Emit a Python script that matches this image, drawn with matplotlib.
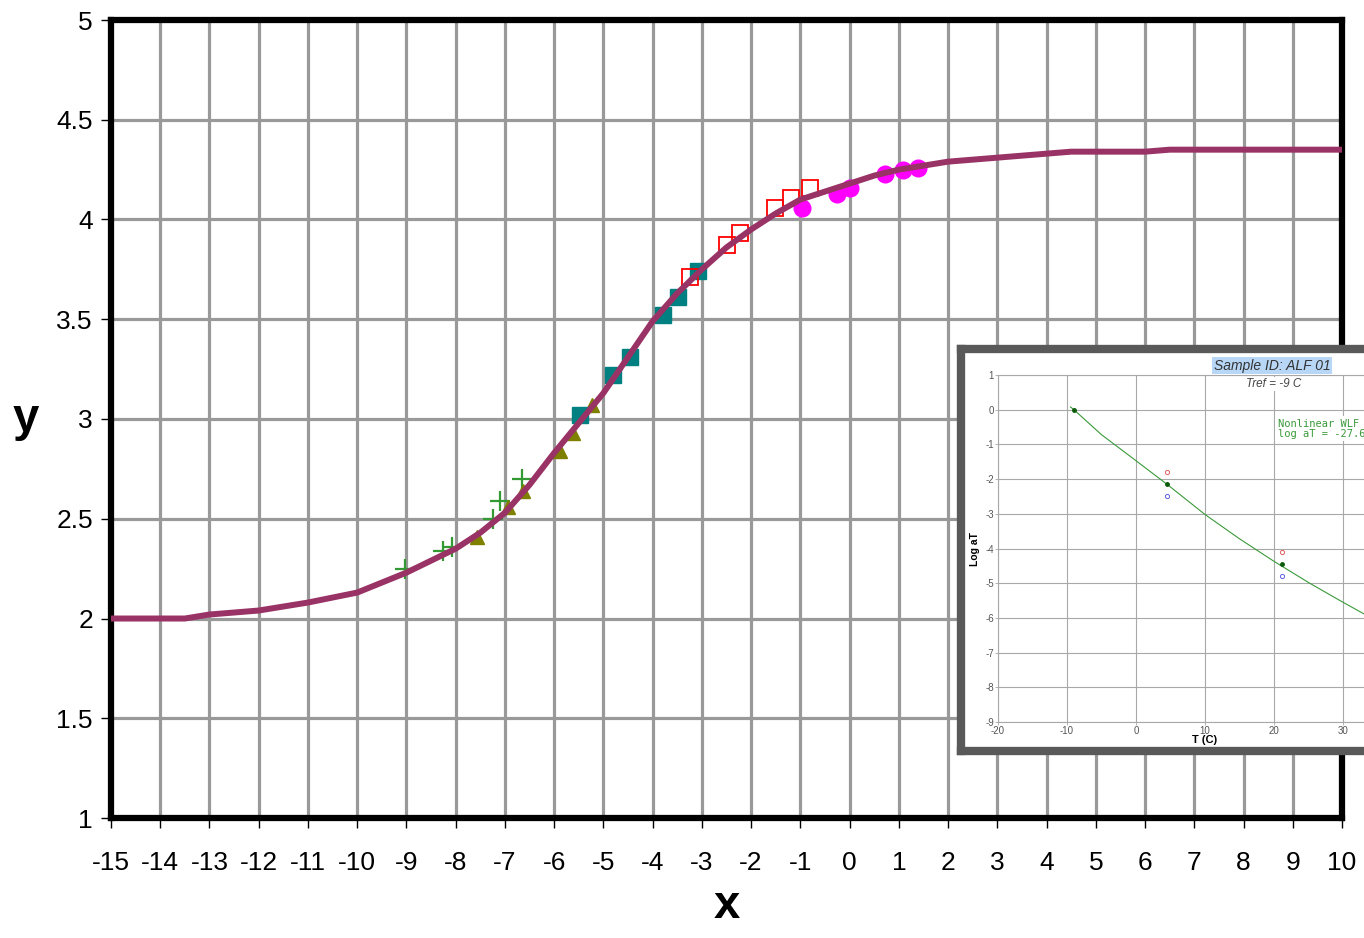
import numpy as np
import matplotlib.pyplot as plt
from matplotlib.ticker import FormatStrFormatter

plt.rcParams['font.family'] = ['Liberation Sans', 'DejaVu Sans']
plt.rcParams['axes.unicode_minus'] = False

# master curve
curve_x = [-15, -14, -13.5, -13, -12, -11, -10, -9, -8.5, -8, -7.5, -7, -6.5, -6, -5.5, -5, -4.5, -4,
           -3.5, -3, -2.5, -2, -1.5, -1, -0.5, 0, 0.5, 1, 1.5, 2, 3, 4, 4.5, 6, 6.5, 10]
curve_y = [2.0, 2.0, 2.0, 2.02, 2.04, 2.08, 2.13, 2.23, 2.29, 2.35, 2.43, 2.53, 2.67, 2.83, 2.98, 3.13, 3.31, 3.49,
           3.63, 3.75, 3.86, 3.95, 4.03, 4.10, 4.14, 4.18, 4.22, 4.25, 4.27, 4.29, 4.31, 4.33, 4.34, 4.34, 4.35, 4.35]

# shifted data sets
plus_x = [-9.03, -8.26, -8.07, -7.24, -7.1, -6.65]
plus_y = [2.25, 2.34, 2.36, 2.50, 2.59, 2.70]
tri_x = [-7.57, -6.94, -6.63, -5.88, -5.62, -5.23]
tri_y = [2.41, 2.56, 2.64, 2.84, 2.93, 3.07]
sqf_x = [-5.47, -4.8, -4.46, -3.79, -3.49, -3.08]
sqf_y = [3.02, 3.22, 3.31, 3.52, 3.61, 3.74]
sqo_x = [-3.24, -2.49, -2.23, -1.51, -1.19, -0.80]
sqo_y = [3.71, 3.87, 3.93, 4.06, 4.11, 4.16]
dot_x = [-0.97, -0.26, 0.01, 0.72, 1.08, 1.39]
dot_y = [4.06, 4.13, 4.16, 4.23, 4.25, 4.26]

# inset: shift factors
wlf_T = [-9.5, -9, -5, 0, 4.5, 10, 15, 20, 25, 30, 35]
wlf_logaT = [0.08, 0.0, -0.72, -1.47, -2.15, -3.02, -3.72, -4.37, -4.98, -5.55, -6.1]
fit_T = [-9, 4.5, 21.2]
fit_logaT = [0.0, -2.15, -4.45]
hi_T = [4.5, 21.2]
hi_logaT = [-1.8, -4.1]
lo_T = [4.5, 21.2]
lo_logaT = [-2.5, -4.8]

W, H = 1364, 938
fig = plt.figure(figsize=(W / 100, H / 100), dpi=100)
ax = fig.add_axes([111 / W, 1 - 818 / H, (1342 - 111) / W, (818 - 20) / H])

ax.plot(plus_x, plus_y, '+', color='#339933', ms=14, mew=1.6, zorder=3)
ax.plot(tri_x, tri_y, '^', color='#808000', ms=10, mec='#808000', zorder=3)
ax.plot(sqf_x, sqf_y, 's', color='#008080', ms=12, zorder=3)
ax.plot(sqo_x, sqo_y, 's', mfc='none', mec='#ff0000', ms=12, mew=1.3, zorder=3)
ax.plot(dot_x, dot_y, 'o', color='#ff00ff', ms=12, zorder=3)
ax.plot(curve_x, curve_y, '-', color='#993366', lw=4.3, zorder=4, solid_capstyle='butt')

ax.set_xlim(-15, 10)
ax.set_ylim(1, 5)
ax.set_xticks(np.arange(-15, 11, 1))
ax.set_yticks(np.arange(1, 5.01, 0.5))
ax.yaxis.set_major_formatter(FormatStrFormatter('%g'))
ax.grid(True, color='#999999', lw=2.3, zorder=0)
ax.set_axisbelow(True)
for s in ax.spines.values():
    s.set_linewidth(4.5)
    s.set_color('black')
ax.tick_params(axis='x', length=7, width=1, pad=17, labelsize=19)
ax.tick_params(axis='y', length=7, width=1, pad=6, labelsize=19)
ax.set_xlabel('x', fontsize=34, fontweight='bold', labelpad=6)
ax.set_ylabel('y', fontsize=34, fontweight='bold', rotation=0, labelpad=22, va='center')

# inset screenshot frame
frame = fig.add_axes([961 / W, 1 - 751 / H, (1420 - 961) / W, (751 - 349) / H], zorder=5)
frame.set_xticks([])
frame.set_yticks([])
frame.set_facecolor('white')
for s in frame.spines.values():
    s.set_linewidth(6)
    s.set_color('#595959')

ins = fig.add_axes([998 / W, 1 - 722 / H, 414 / W, (722 - 375) / H], zorder=6)
ins.plot(wlf_T, wlf_logaT, '-', color='#3a9a3a', lw=0.8)
ins.plot(fit_T, fit_logaT, 'o', color='#0a5a0a', ms=2.5)
ins.plot(hi_T, hi_logaT, 'o', mfc='none', mec='#e06060', ms=3, mew=0.7)
ins.plot(lo_T, lo_logaT, 'o', mfc='none', mec='#6060e0', ms=3, mew=0.7)
ins.set_xlim(-20, 40)
ins.set_ylim(-9, 1)
ins.set_xticks(np.arange(-20, 31, 10))
ins.set_yticks(np.arange(-9, 2, 1))
ins.grid(True, color='#a8a8a8', lw=0.8)
ins.set_axisbelow(True)
for s in ins.spines.values():
    s.set_color('#a8a8a8')
    s.set_linewidth(0.8)
ins.tick_params(length=2, width=0.6, colors='#a8a8a8', labelcolor='#555555', labelsize=7, pad=1)
ins.set_xlabel('T (C)', fontsize=8, fontweight='bold', labelpad=-1)
ins.set_ylabel('Log aT', fontsize=7.5, fontweight='bold', labelpad=4)
ins.text(19.7, 1.27, 'Sample ID: ALF 01', fontsize=10, style='italic', ha='center', va='center',
         color='#333333', bbox=dict(facecolor='#b8d6f6', edgecolor='none', pad=1.2), clip_on=False)
ins.text(19.9, 0.74, 'Tref = -9 C', fontsize=8.5, style='italic', ha='center', va='center',
         color='#444444', bbox=dict(facecolor='white', edgecolor='none', pad=1))
ins.text(20.6, -0.55, 'Nonlinear WLF\nlog aT = -27.6', fontsize=7.5, family='DejaVu Sans Mono',
         color='#3a9a3a', ha='left', va='center', linespacing=0.95,
         bbox=dict(facecolor='white', edgecolor='none', pad=2))

fig.savefig('out.png', dpi=100)
